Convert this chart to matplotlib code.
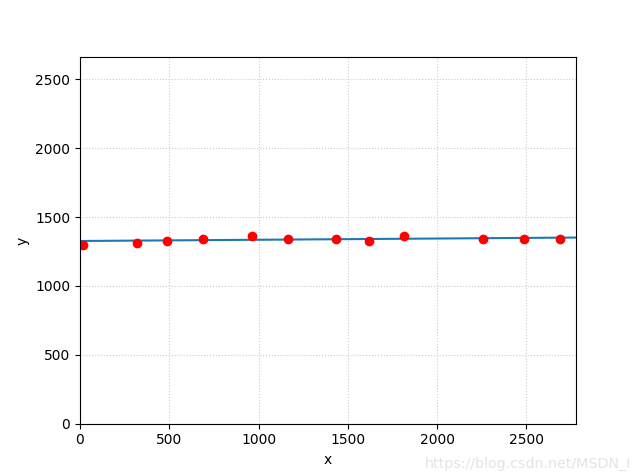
import numpy as np
import matplotlib
matplotlib.use('Agg')
import matplotlib.pyplot as plt

# sample points
x_pts = [18, 321, 486, 691, 965, 1167, 1436, 1621, 1817, 2259, 2489, 2691]
y_pts = [1299, 1314, 1323, 1338, 1364, 1343, 1343, 1323, 1364, 1343, 1343, 1343]

# fitted line end points
line_x = [0, 2778]
line_y = [1326, 1351]


def main():
    fig = plt.figure(figsize=(6.4, 4.76), dpi=100)
    ax = fig.add_subplot(111)

    ax.plot(line_x, line_y)                      # fit line
    ax.plot(x_pts, y_pts, 'ro')                  # raw data
    ax.set_xlim(0, 2778)
    ax.set_ylim(0, 2661)
    ax.set_xlabel('x')
    ax.set_ylabel('y')
    ax.grid(linestyle=':', color='#cccccc')

    fig.text(0.986, 0.01, 'https://blog.csdn.net/MSDN_I', ha='right', va='bottom',
             color='#e4e4e4', fontsize=10.3)
    fig.savefig('out.png', dpi=100)


if __name__ == "__main__":
    main()
